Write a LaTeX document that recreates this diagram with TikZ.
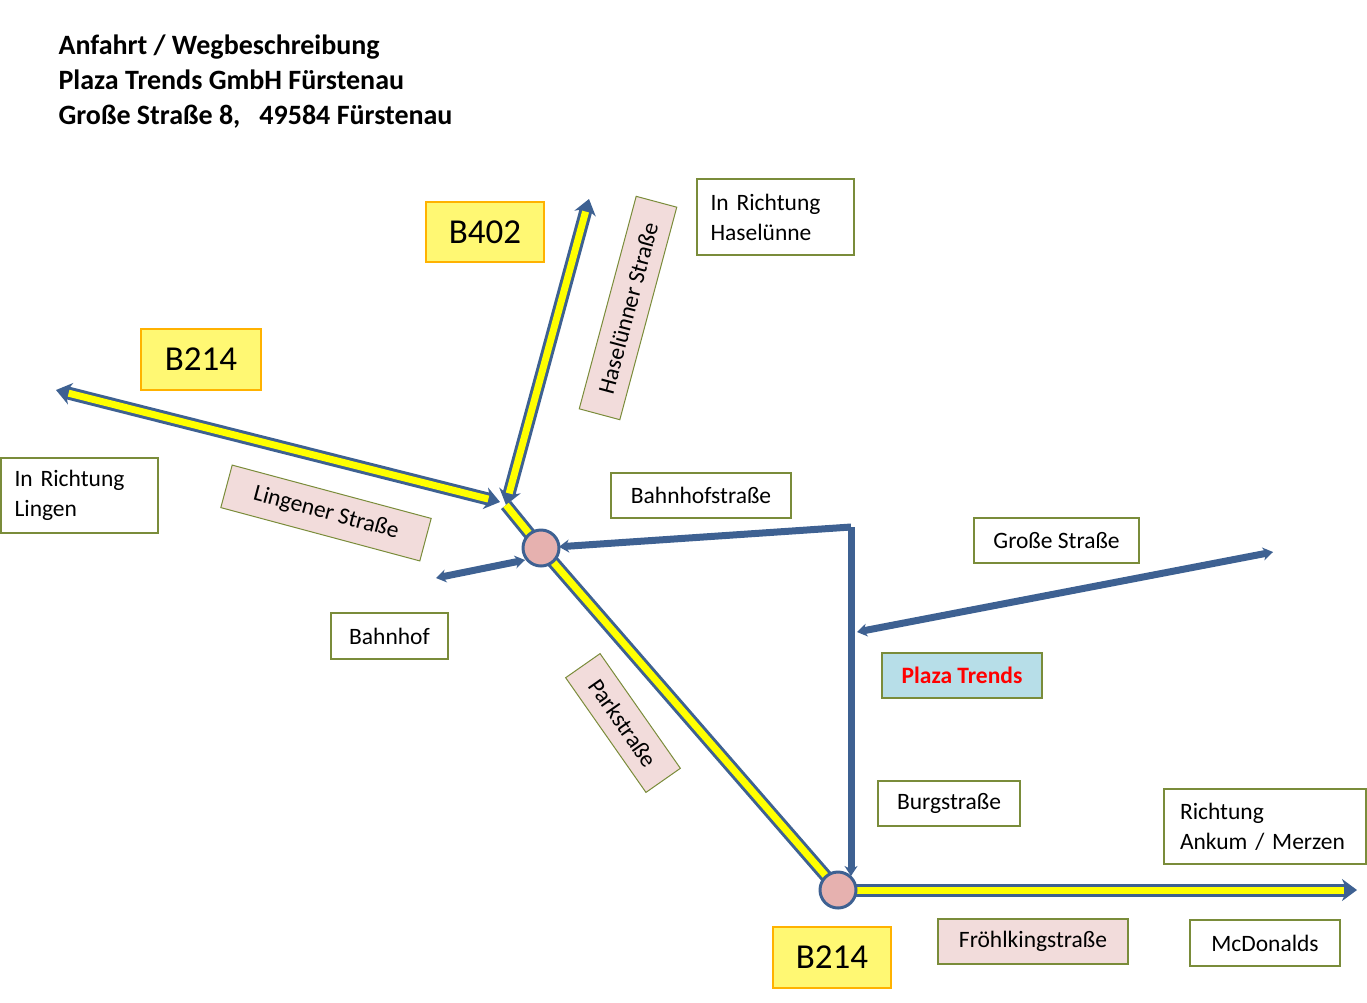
\documentclass[tikz,border=0pt]{standalone}
\usepackage{fontspec}
\setmainfont{Carlito}
\usetikzlibrary{arrows.meta,calc}
\definecolor{rb}{HTML}{3E6192}
\definecolor{ry}{HTML}{FFFF00}
\definecolor{ol}{HTML}{7A8C3A}
\definecolor{pk}{HTML}{F2DCDB}
\definecolor{cp}{HTML}{E6B1AF}
\definecolor{lb}{HTML}{B7DEE8}
\tikzset{
 lbl/.style={draw=ol,line width=1.5pt,fill=white,align=left,inner sep=0pt,font=\fontsize{23.5}{30}\selectfont},
 rot/.style={draw=ol,line width=1pt,fill=pk,inner sep=0pt,font=\fontsize{23.5}{30}\selectfont},
 bx/.style={draw=orange!60!yellow,line width=1.5pt,fill=yellow!55,inner sep=0pt,font=\fontsize{35}{40}\selectfont},
 yb/.style={rb,line width=13pt},
 yy/.style={ry,line width=7pt},
 bl/.style={rb,line width=7pt},
 ar/.style={-{Stealth[length=15pt,width=22pt]}},
 ar2/.style={{Stealth[length=15pt,width=22pt]}-{Stealth[length=15pt,width=22pt]}},
 sa/.style={-{Stealth[length=10pt,width=13pt]}},
 sa2/.style={{Stealth[length=10pt,width=13pt]}-{Stealth[length=10pt,width=13pt]}},
 cir/.style={circle,draw=rb,line width=3pt,fill=cp,minimum size=36pt,inner sep=0pt}
}
\begin{document}
\begin{tikzpicture}[x=1pt,y=-1pt]
\useasboundingbox (0,0) rectangle (1367,1002);
\node[anchor=north west,align=left,font=\bfseries\fontsize{28}{35}\selectfont] (title) at (55,31)
 {Anfahrt / Wegbeschreibung\\Plaza Trends GmbH Fürstenau\\Große Straße 8,\ \ \ 49584 Fürstenau};
\coordinate (lw) at (56,390); \coordinate (lj) at (500,502);
\coordinate (nt) at (589,199); \coordinate (nj) at (506,505);
\coordinate (c1) at (541,548); \coordinate (c2) at (838,890);
\coordinate (ee) at (1357,890);
\coordinate (bt) at (851,527); \coordinate (gs) at (857,632); \coordinate (ge) at (1273,552);
\coordinate (bh) at (436,578); \coordinate (bh2) at (525,560);
% yellow roads
\draw[yb,ar2] (lw) -- (lj);
\draw[yy,shorten <=13pt,shorten >=12pt] (lw) -- (lj);
\draw[yb,ar2] (nt) -- (nj);
\draw[yy,shorten <=13pt,shorten >=12pt] (nt) -- (nj);
\draw[yb] (nj) -- (c1) -- (c2);
\draw[yy] (nj) -- (c1) -- (c2);
\draw[yb,ar] (c2) -- (ee);
\draw[yy,shorten >=13pt] (c2) -- (ee);
% blue roads
\draw[bl,sa] (bt) -- ($(c1)!18pt!(bt)$);
\draw[bl,sa] (bt) -- (851,876);
\draw[bl,sa2] (gs) -- (ge);
\draw[bl,sa2] (bh) -- (bh2);
\node[cir] (k1) at (c1) {};
\node[cir] (k2) at (c2) {};
% labels
\node[lbl,minimum width=157pt,minimum height=76pt,text width=130pt] (hr) at (775.5,217) {In Richtung\\Haselünne};
\node[lbl,minimum width=157pt,minimum height=75pt,text width=130pt] (lr) at (79.5,495.5) {In Richtung\\Lingen};
\node[lbl,minimum width=180pt,minimum height=45pt] (bs) at (701,495.5) {Bahnhofstraße};
\node[lbl,minimum width=165pt,minimum height=45pt] (gr) at (1056.5,540.5) {Große Straße};
\node[lbl,minimum width=117pt,minimum height=46pt] (bf) at (389.5,636) {Bahnhof};
\node[lbl,fill=lb,minimum width=160pt,minimum height=45pt,text=red,font=\bfseries\fontsize{23.5}{30}\selectfont] (pt) at (962,675.5) {Plaza Trends};
\node[lbl,minimum width=142pt,minimum height=45pt] (bu) at (949,803.5) {Burgstraße};
\node[lbl,minimum width=202pt,minimum height=75pt,text width=170pt] (ak) at (1265,826.5) {Richtung\\Ankum / Merzen};
\node[lbl,fill=pk,minimum width=190pt,minimum height=45pt] (fr) at (1033,941.5) {Fröhlkingstraße};
\node[lbl,minimum width=150pt,minimum height=46pt] (md) at (1265,943) {McDonalds};
\node[bx,minimum width=118pt,minimum height=60pt] (b402) at (485,232) {B402};
\node[bx,minimum width=120pt,minimum height=61pt] (b214a) at (201,359.5) {B214};
\node[bx,minimum width=118pt,minimum height=61pt] (b214b) at (832,957.5) {B214};
\node[rot,rotate=75,minimum width=220pt,minimum height=42pt] (hs) at (628,308) {Haselünner Straße};
\node[rot,rotate=-15,minimum width=206pt,minimum height=44pt] (ls) at (326,513) {Lingener Straße};
\node[rot,rotate=-55,minimum width=140pt,minimum height=42pt] (ps) at (623,723) {Parkstraße};
\end{tikzpicture}
\end{document}
